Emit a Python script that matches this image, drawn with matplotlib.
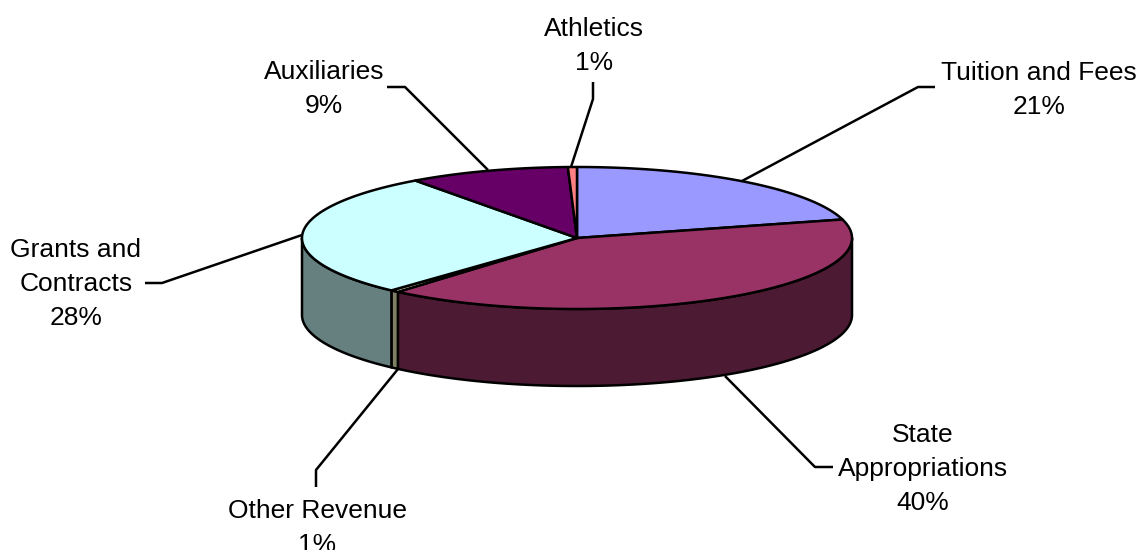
import numpy as np
import matplotlib
matplotlib.use("Agg")
import matplotlib.pyplot as plt
from matplotlib.patches import Polygon

plt.rcParams['font.family'] = ['Liberation Sans', 'DejaVu Sans']

# clockwise from 12 o'clock
categories = ["Tuition and Fees", "State Appropriations", "Other Revenue",
              "Grants and Contracts", "Auxiliaries", "Athletics"]
values = [20.8, 40.49, 0.5, 28.21, 9.47, 0.53]
labels = ["Tuition and Fees\n21%", "State\nAppropriations\n40%", "Other Revenue\n1%",
          "Grants and\nContracts\n28%", "Auxiliaries\n9%", "Athletics\n1%"]
top_colors = ["#9999FF", "#993366", "#FFFFCC", "#CCFFFF", "#660066", "#FF8080"]
side_colors = ["#4D4D80", "#4D1A33", "#808066", "#668080", "#330033", "#804040"]

label_pos = [(1039, 90), (923, 469), (317, 528), (76, 284), (324, 89), (594, 46)]
leaders = [
    [(742, 181), (918, 87), (935, 87)],
    [(725, 376), (815, 467), (833, 467)],
    [(398, 369), (316, 470), (316, 487)],
    [(302, 235), (162, 283), (145, 283)],
    [(488, 170), (405, 87), (387, 87)],
    [(571, 167), (593, 99), (593, 82)],
]

CX, CY = 577, 238
RX, RY = 275, 71
DEPTH = 77
LW = 1.8


def rim(t0, t1, dy=0):
    t = np.radians(np.linspace(t0, t1, max(int(abs(t1 - t0) * 2), 2)))
    return np.column_stack([CX + RX * np.sin(t), CY + dy - RY * np.cos(t)])


fig = plt.figure(figsize=(11.41, 5.5), dpi=100)
ax = fig.add_axes([0, 0, 1, 1])
ax.set_xlim(0, 1141)
ax.set_ylim(550, 0)
ax.axis('off')

edges = np.concatenate([[0], np.cumsum(values)]) / sum(values) * 360

# side walls, only the front half of the rim shows
for i in range(len(values)):
    t0, t1 = max(edges[i], 90), min(edges[i + 1], 270)
    if t1 <= t0:
        continue
    pts = np.vstack([rim(t0, t1), rim(t1, t0, DEPTH)])
    ax.add_patch(Polygon(pts, closed=True, facecolor=side_colors[i], edgecolor='black',
                         linewidth=LW, joinstyle='round'))

# top faces
for i in range(len(values)):
    pts = np.vstack([[(CX, CY)], rim(edges[i], edges[i + 1])])
    ax.add_patch(Polygon(pts, closed=True, facecolor=top_colors[i], edgecolor='black',
                         linewidth=LW, joinstyle='round'))

for pts in leaders:
    xs, ys = zip(*pts)
    ax.plot(xs, ys, color='black', lw=LW, solid_joinstyle='round', solid_capstyle='butt')

for text, (x, y) in zip(labels, label_pos):
    ax.text(x, y, text, ha='center', va='center', fontsize=19, color='black',
            linespacing=1.53, clip_on=False)

fig.savefig("out.png", dpi=100, facecolor='white')
